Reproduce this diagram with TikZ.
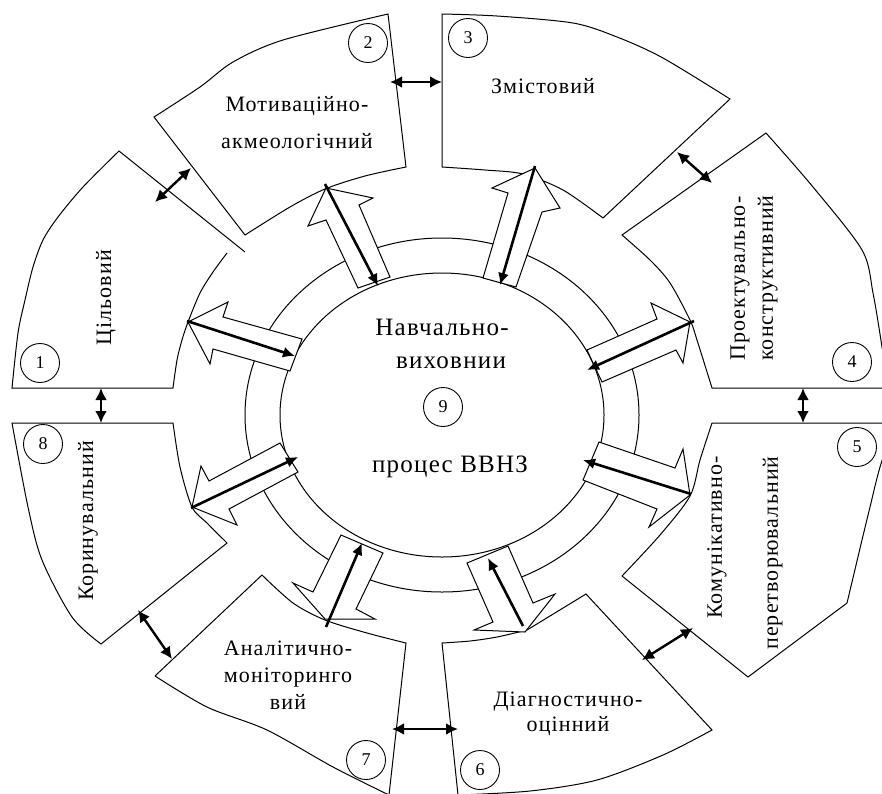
\documentclass[tikz,border=0pt]{standalone}
\usepackage{fontspec}
\setmainfont[LetterSpace=5]{Liberation Serif}
\usetikzlibrary{arrows.meta}

\tikzset{
  sector/.style={line width=1pt},
  blockarrow/.style={draw,fill=white,line width=1pt},
  thinarrow/.style={line width=2.6pt,-{Latex[length=12pt,width=11pt]}},
  linkarrow/.style={line width=2.4pt,{Latex[length=12pt,width=12pt]}-{Latex[length=12pt,width=12pt]}},
  num/.style={circle,draw,line width=0.9pt,minimum size=39pt,inner sep=0pt,font=\fontsize{18}{18}\selectfont},
  lbl/.style={font=\fontsize{22}{27}\selectfont,align=center,inner sep=0pt},
  big/.style={font=\fontsize{25}{30}\selectfont,inner sep=0pt,anchor=base}
}

\begin{document}
\begin{tikzpicture}[x=1pt,y=-1pt]
       \useasboundingbox (0,0) rectangle (882,793);

       % centre
       \draw[sector] (442,415) ellipse (197 and 177);
       \draw[sector] (442,415) ellipse (162 and 142);

       % sectors
       \draw[sector] (245,252) -- (119,151) -- plot[smooth] coordinates {(119,151) (83,187) (58,217) (43,240) (33,267) (25,300) (18,333) (12,388)}
             -- (173,388) -- plot[smooth] coordinates {(173,388) (177,360) (182,340) (188,322) (200,293) (213,272) (227,253)};
       \draw[sector] (154,117) -- (245,235) -- plot[smooth] coordinates {(245,235) (290,207) (325,189) (365,176) (406,167)}
             -- (388,14) -- plot[smooth] coordinates {(388,14) (283,40) (233,62) (200,87) (154,117)} -- cycle;
       \draw[sector] (442,14) -- (442,167) -- plot[smooth] coordinates {(442,167) (485,170) (523,174) (563,190) (603,218)}
             -- (730,99) -- plot[smooth] coordinates {(730,99) (663,58) (617,37) (573,23) (497,16) (442,14)} -- cycle;
       \draw[sector] (766,133) -- plot[smooth] coordinates {(766,133) (813,187) (862,250) (873,293) (882,347) (888,388)}
             -- (712,388) -- plot[smooth] coordinates {(712,388) (697,340) (690,320) (670,283) (650,260) (622,235)} -- cycle;
       \draw[sector] (712,423) -- (895,423) -- plot[smooth] coordinates {(895,423) (880,467) (870,507) (862,540) (847,603)}
             -- (748,677) -- (622,576) -- plot[smooth] coordinates {(622,576) (660,535) (690,496) (700,460) (712,423)};
       \draw[sector] (442,643) -- plot[smooth] coordinates {(442,643) (470,641) (497,637) (527,630)} -- (586,594) -- (712,730)
             -- plot[smooth] coordinates {(712,730) (663,755) (597,780) (530,791) (458,795)} -- cycle;
       \draw[sector] (155,676) -- (262,575) -- plot[smooth] coordinates {(262,575) (293,603) (325,620) (367,633) (406,643)}
             -- (389,795) -- plot[smooth] coordinates {(389,795) (333,767) (267,730) (207,707) (155,676)};
       \draw[sector] (12,423) -- (173,423) -- plot[smooth] coordinates {(173,423) (180,467) (192,507) (207,523) (227,543)}
             -- (101,644) -- plot[smooth] coordinates {(101,644) (72,617) (42,560) (28,507) (12,423)} -- cycle;

       % block arrows
       \draw[blockarrow] (188,322) -- (228,302) -- (223,317) -- (302,339) -- (290,371) -- (213,349) -- (210,364) -- cycle;
       \draw[blockarrow] (326,188) -- (308,226) -- (326,220) -- (358,288) -- (390,277) -- (359,205) -- (373,198) -- cycle;
       \draw[blockarrow] (535,168) -- (492,188) -- (508,193) -- (483,278) -- (516,287) -- (542,212) -- (560,208) -- cycle;
       \draw[blockarrow] (690,322) -- (651,303) -- (657,319) -- (587,350) -- (602,382) -- (676,350) -- (683,363) -- cycle;
       \draw[blockarrow] (690,495) -- (683,449) -- (675,468) -- (599,442) -- (583,480) -- (657,509) -- (649,527) -- cycle;
       \draw[blockarrow] (525,632) -- (474,630) -- (493,622) -- (467,563) -- (508,546) -- (533,603) -- (555,594) -- cycle;
       \draw[blockarrow] (325,619) -- (293,583) -- (313,592) -- (341,535) -- (383,553) -- (356,609) -- (375,619) -- cycle;
       \draw[blockarrow] (192,507) -- (201,466) -- (209,481) -- (280,443) -- (298,472) -- (229,509) -- (237,525) -- cycle;

       \coordinate (O1) at (187,321);
       \coordinate (I1) at (295,356);
       \coordinate (O2) at (325,184);
       \coordinate (I2) at (378,286);
       \coordinate (O3) at (535,166);
       \coordinate (I3) at (500,285);
       \coordinate (O4) at (694,321);
       \coordinate (I4) at (587,370);
       \coordinate (O5) at (691,494);
       \coordinate (I5) at (583,460);
       \coordinate (O6) at (523,626);
       \coordinate (I6) at (488,558);
       \coordinate (O7) at (326,627);
       \coordinate (I7) at (362,543);
       \coordinate (O8) at (191,508);
       \coordinate (I8) at (298,457);

       \draw[thinarrow] (O1) -- (I1);
       \draw[thinarrow] (O2) -- (I2);
       \draw[thinarrow] (O3) -- (I3);
       \draw[thinarrow] (O4) -- (I4);
       \draw[thinarrow] (O5) -- (I5);
       \draw[thinarrow] (O6) -- (I6);
       \draw[thinarrow] (O7) -- (I7);
       \draw[thinarrow] (O8) -- (I8);

       % links between sectors
       \coordinate (L12a) at (155,202);
       \coordinate (L12b) at (191,168);
       \coordinate (L23a) at (390,82);
       \coordinate (L23b) at (442,82);
       \coordinate (L34a) at (677,152);
       \coordinate (L34b) at (712,183);
       \coordinate (L45a) at (803,388);
       \coordinate (L45b) at (803,423);
       \coordinate (L56a) at (642,660);
       \coordinate (L56b) at (693,628);
       \coordinate (L67a) at (392,729);
       \coordinate (L67b) at (458,729);
       \coordinate (L78a) at (138,610);
       \coordinate (L78b) at (172,659);
       \coordinate (L81a) at (101,388);
       \coordinate (L81b) at (101,423);

       \draw[linkarrow] (L12a) -- (L12b);
       \draw[linkarrow] (L23a) -- (L23b);
       \draw[linkarrow] (L34a) -- (L34b);
       \draw[linkarrow] (L45a) -- (L45b);
       \draw[linkarrow] (L56a) -- (L56b);
       \draw[linkarrow] (L67a) -- (L67b);
       \draw[linkarrow] (L78a) -- (L78b);
       \draw[linkarrow] (L81a) -- (L81b);

       % labels
       \node[lbl,rotate=90] (t1) at (106,298) {Цільовий};
       \node[lbl,font=\fontsize{22}{37}\selectfont] (t2) at (297,123) {Мотиваційно-\\акмеологічний};
       \node[lbl] (t3) at (543,86) {Змістовий};
       \node[lbl,rotate=90,align=left,font=\fontsize{22}{28}\selectfont] (t4) at (754,278) {Проектувально-\\конструктивний};
       \node[lbl,rotate=90,align=right,font=\fontsize{22}{56}\selectfont] (t5) at (745,553) {Комунікативно-\\перетворювальний};
       \node[lbl,font=\fontsize{22}{25}\selectfont] (t6) at (568,714) {Діагностично-\\оцінний};
       \node[lbl] (t7) at (288,675) {Аналітично-\\моніторинго\\вий};
       \node[lbl,rotate=90] (t8) at (88,521) {Коринувальний};

       \node[big] (nav) at (442,335) {Навчально-};
       \node[big] (vyh) at (451,368) {виховнии};
       \node[big] (proc) at (450,472) {процес ВВНЗ};

       \node[num] (n1) at (40,363) {1};
       \node[num] (n2) at (368,43) {2};
       \node[num] (n3) at (468,38) {3};
       \node[num] (n4) at (852,362) {4};
       \node[num] (n5) at (857,447) {5};
       \node[num] (n6) at (480,770) {6};
       \node[num] (n7) at (366,760) {7};
       \node[num] (n8) at (43,444) {8};
       \node[num] (n9) at (443,407) {9};
     \end{tikzpicture}
\end{document}
